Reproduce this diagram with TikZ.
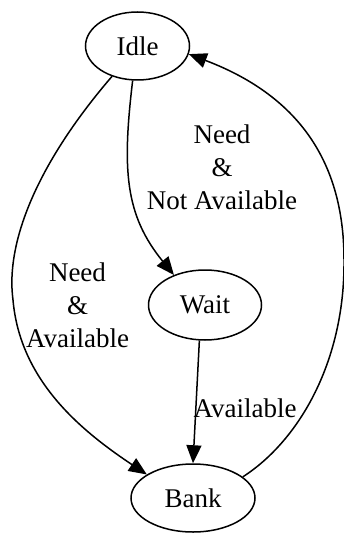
\documentclass[tikz,border=0pt]{standalone}
\usepackage{fontspec}
\setmainfont{Liberation Serif}
\usetikzlibrary{shapes.geometric,arrows.meta}

\begin{document}
\begin{tikzpicture}[x=1pt,y=-1pt,
  state/.style={draw, ellipse, line width=1.5pt, inner sep=0pt,
    font=\fontsize{27}{33}\selectfont},
  trans/.style={line width=1.5pt, -{Triangle[length=18pt,width=15pt]}},
  lbl/.style={align=center, inner sep=0pt, font=\fontsize{27}{33}\selectfont}]
\useasboundingbox (0,0) rectangle (344,534);

% states
\node[state, minimum width=104pt, minimum height=68pt] (idle) at (137.5,46) {Idle};
\node[state, minimum width=113pt, minimum height=70pt] (wait) at (205,305) {Wait};
\node[state, minimum width=124pt, minimum height=68pt] (bank) at (193,498) {Bank};

% bend points of the two outer arcs
\coordinate (leftbend) at (13,300);
\coordinate (rightbend) at (344,260);

% transitions
\draw[trans] (idle.-98.7) .. controls (122,170) and (125,215) .. (wait.136.8);
\draw[trans] (idle.-130.7) .. controls (40,160) and (5,240) .. (leftbend)
  .. controls (20,380) and (80,430) .. (bank.153.4);
\draw[trans] (wait.-99.5) -- (bank.90);
\draw[trans] (bank.23.7) .. controls (300,440) and (345,360) .. (rightbend)
  .. controls (344,175) and (310,100) .. (idle.-9.7);

% transition labels
\node[lbl] (needna) at (222,167) {Need\\\&\\Not Available};
\node[lbl] (needa) at (77.5,305) {Need\\\&\\Available};
\node[lbl] (avail) at (245,408) {Available};
\end{tikzpicture}
\end{document}
